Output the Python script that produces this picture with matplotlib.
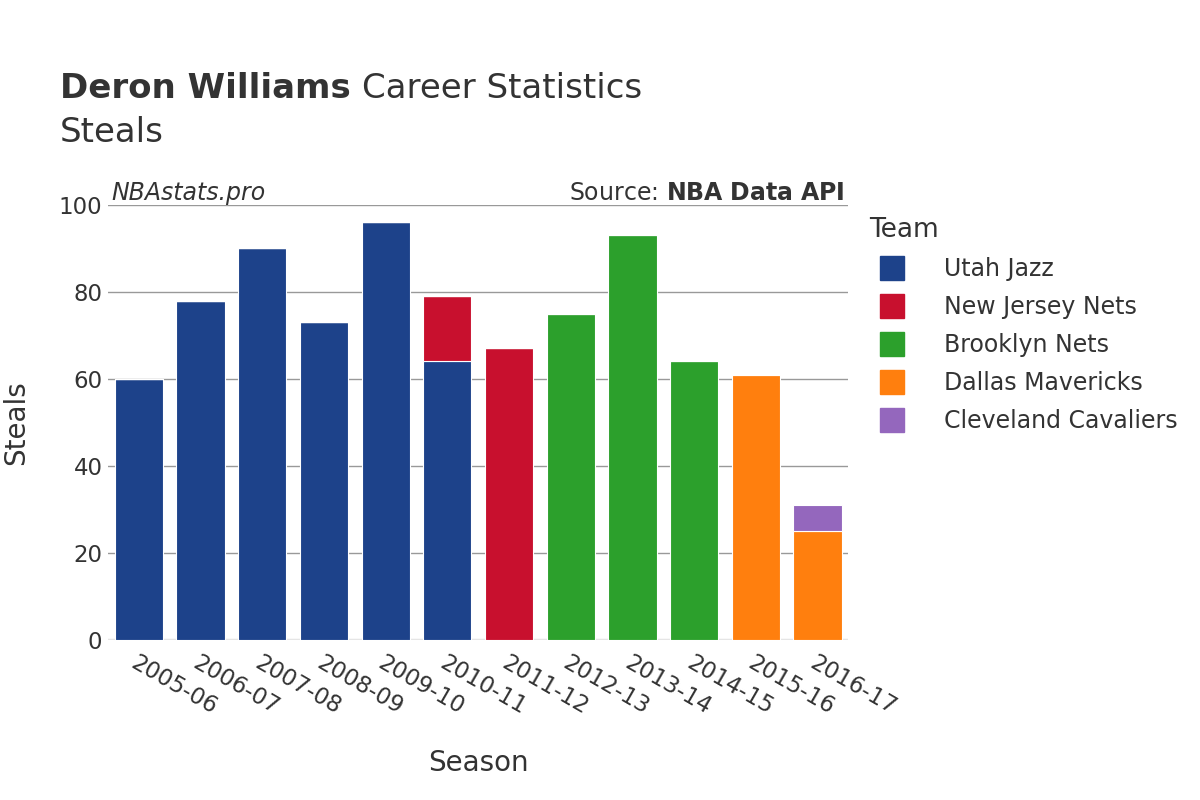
import numpy as np
import matplotlib
matplotlib.use("Agg")
from matplotlib import pyplot as plt
from matplotlib.lines import Line2D

seasons = ["2005-06", "2006-07", "2007-08", "2008-09", "2009-10", "2010-11",
           "2011-12", "2012-13", "2013-14", "2014-15", "2015-16", "2016-17"]
teams = ["Utah Jazz", "New Jersey Nets", "Brooklyn Nets", "Dallas Mavericks", "Cleveland Cavaliers"]
colors = ["#1d428a", "#c8102e", "#2ca02c", "#ff7f0e", "#9467bd"]
utah = [60, 78, 90, 73, 96, 64, 0, 0, 0, 0, 0, 0]
njn = [0, 0, 0, 0, 0, 15, 67, 0, 0, 0, 0, 0]
bkn = [0, 0, 0, 0, 0, 0, 0, 75, 93, 64, 0, 0]
dal = [0, 0, 0, 0, 0, 0, 0, 0, 0, 0, 61, 25]
cle = [0, 0, 0, 0, 0, 0, 0, 0, 0, 0, 0, 6]
series = [utah, njn, bkn, dal, cle]

txt = "#333333"
fig = plt.figure(figsize=(12, 8), dpi=100)
ax = fig.add_axes([0.09, 0.2, 0.617, 0.544])

x = np.arange(len(seasons))
bottom = np.zeros(len(seasons))
for vals, c in zip(series, colors):
    v = np.array(vals, dtype=float)
    ax.bar(x, v, width=0.78, bottom=bottom, color=c, edgecolor="white", linewidth=0.8, zorder=3)
    bottom += v

ax.set_xlim(-0.5, 11.5)
ax.set_ylim(0, 100)
ax.set_yticks([0, 20, 40, 60, 80, 100])
ax.grid(axis="y", color="#999999", linewidth=1, zorder=0)
ax.axhline(0, color="#e5e5e5", linewidth=2.5, zorder=2)
for s in ax.spines.values():
    s.set_visible(False)
ax.tick_params(axis="both", length=0, labelsize=16.5, labelcolor=txt)
ax.tick_params(axis="y", pad=4)
ax.tick_params(axis="x", pad=8)
ax.set_xticks(x)
ax.set_xticklabels(seasons, rotation=-30, ha="left", rotation_mode="anchor")
ax.set_xlabel("Season", fontsize=20, color=txt)
ax.set_ylabel("Steals", fontsize=20, color=txt)
ax.xaxis.set_label_coords(0.5, -0.25)
ax.yaxis.set_label_coords(-0.105, 0.5)

t1 = fig.text(0.05, 0.89, "Deron Williams", fontsize=24.5, fontweight="bold", color=txt, va="center")
fig.canvas.draw()
bb = t1.get_window_extent()
fig.text(bb.x1 / 1200 + 0.009, 0.89, "Career Statistics", fontsize=24.5, color=txt, va="center")
fig.text(0.05, 0.835, "Steals", fontsize=24.5, color=txt, va="center")

ax.text(0.005, 1.0, "NBAstats.pro", transform=ax.transAxes, fontsize=17, style="italic",
        color=txt, va="bottom", ha="left")
ax.text(0.995, 1.0, "Source: $\\bf{NBA\\ Data\\ API}$", transform=ax.transAxes, fontsize=17,
        color=txt, va="bottom", ha="right")

handles = [Line2D([0], [0], marker="s", linestyle="none", markersize=17, markerfacecolor=c,
                  markeredgecolor=c) for c in colors]
leg = fig.legend(handles, teams, loc="upper left", bbox_to_anchor=(0.716, 0.741), frameon=False,
                 title="Team", fontsize=17, title_fontsize=19, labelspacing=0.6,
                 handletextpad=1.2, borderaxespad=0)
leg._legend_box.align = "left"
for t in leg.get_texts():
    t.set_color(txt)
leg.get_title().set_color(txt)

fig.savefig("out.png", dpi=100)
